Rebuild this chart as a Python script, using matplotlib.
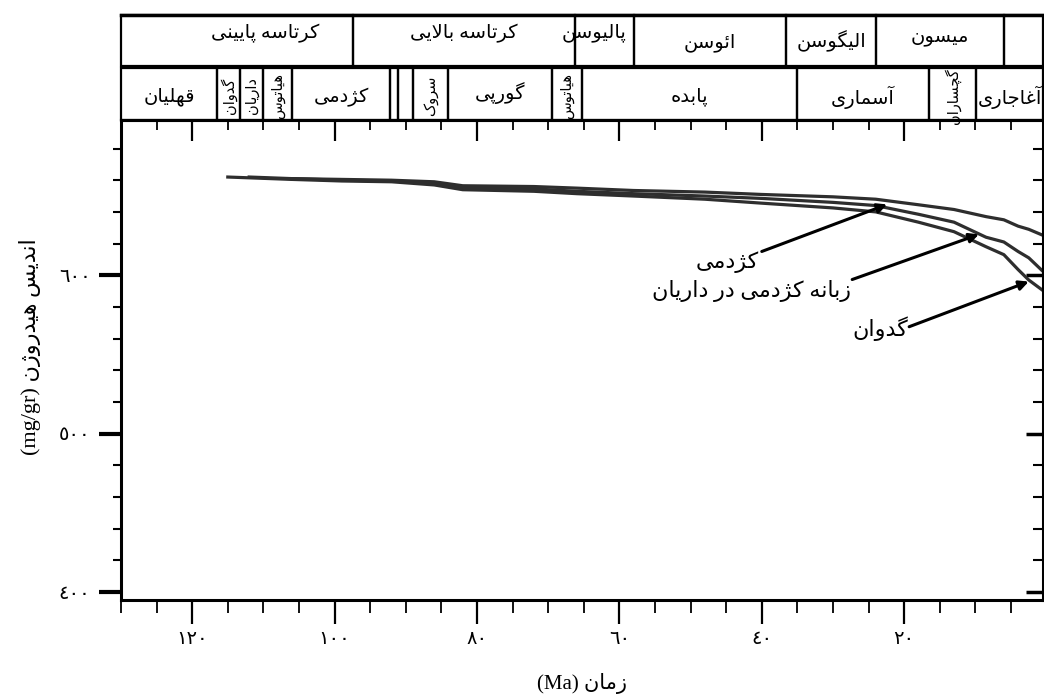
import matplotlib
matplotlib.use('Agg')
import matplotlib.pyplot as plt
from matplotlib.ticker import MultipleLocator, FuncFormatter
from matplotlib.patches import Rectangle

# ---------------- data ----------------
epoch_names = ["کرتاسه پایینی", "کرتاسه بالایی", "پالیوسن", "ائوسن", "الیگوسن", "میسون", ""]
epoch_bounds = [130, 97.4, 66.3, 57.9, 36.6, 23.9, 6.0, 0.5]

formation_names = ["قهلیان", "گدوان", "داریان", "هیاتوس", "کژدمی", "", "", "سروک",
                   "گورپی", "هیاتوس", "پابده", "آسماری", "گچساران", "آغاجاری"]
formation_bounds = [130, 116.5, 113.3, 110.0, 106.0, 92.2, 91.1, 89.0, 84.1,
                    69.4, 65.2, 35.1, 16.5, 9.9, 0.5]

gadvan_age = [115, 112, 106, 99, 92, 86, 82, 72, 66, 58, 48, 40, 30, 24, 18, 13, 8.5, 6, 4, 2.5, 0.4]
gadvan_hi = [662, 661.5, 660.5, 659.5, 659, 657, 654, 653, 651.5, 650, 648, 645.5, 642.5, 640,
             633.5, 627.5, 618, 613, 603.6, 597, 590]

dariyan_age = [112, 106, 99, 92, 86, 82, 72, 66, 58, 48, 40, 30, 24, 18, 13, 8.5, 6, 4, 2.5, 0.4]
dariyan_hi = [662, 661, 660, 659.5, 658, 655.5, 654.5, 653, 651.5, 650, 648.5, 646, 644,
              638.5, 633.5, 624, 621, 615, 611, 602]

kazhdumi_age = [106, 99, 92, 86, 82, 72, 66, 58, 48, 40, 30, 24, 18, 13, 8.5, 6, 4, 2.5, 0.4]
kazhdumi_hi = [661, 660.5, 660, 659, 656.5, 656, 655, 653.5, 652.5, 651, 649.5, 648, 644.5,
               641.5, 637, 635, 631, 629, 625]

curve_labels = ["کژدمی", "زبانه کژدمی در داریان", "گدوان"]

# ---------------- Persian shaping helpers ----------------
_F = {
    'ا': ('\uFE8D', '\uFE8E', None, None), 'آ': ('\uFE81', '\uFE82', None, None),
    'ب': ('\uFE8F', '\uFE90', '\uFE91', '\uFE92'), 'پ': ('\uFB56', '\uFB57', '\uFB58', '\uFB59'),
    'ت': ('\uFE95', '\uFE96', '\uFE97', '\uFE98'), 'ث': ('\uFE99', '\uFE9A', '\uFE9B', '\uFE9C'),
    'ج': ('\uFE9D', '\uFE9E', '\uFE9F', '\uFEA0'), 'چ': ('\uFB7A', '\uFB7B', '\uFB7C', '\uFB7D'),
    'ح': ('\uFEA1', '\uFEA2', '\uFEA3', '\uFEA4'), 'خ': ('\uFEA5', '\uFEA6', '\uFEA7', '\uFEA8'),
    'د': ('\uFEA9', '\uFEAA', None, None), 'ذ': ('\uFEAB', '\uFEAC', None, None),
    'ر': ('\uFEAD', '\uFEAE', None, None), 'ز': ('\uFEAF', '\uFEB0', None, None),
    'ژ': ('\uFB8A', '\uFB8B', None, None),
    'س': ('\uFEB1', '\uFEB2', '\uFEB3', '\uFEB4'), 'ش': ('\uFEB5', '\uFEB6', '\uFEB7', '\uFEB8'),
    'ص': ('\uFEB9', '\uFEBA', '\uFEBB', '\uFEBC'), 'ض': ('\uFEBD', '\uFEBE', '\uFEBF', '\uFEC0'),
    'ط': ('\uFEC1', '\uFEC2', '\uFEC3', '\uFEC4'), 'ظ': ('\uFEC5', '\uFEC6', '\uFEC7', '\uFEC8'),
    'ع': ('\uFEC9', '\uFECA', '\uFECB', '\uFECC'), 'غ': ('\uFECD', '\uFECE', '\uFECF', '\uFED0'),
    'ف': ('\uFED1', '\uFED2', '\uFED3', '\uFED4'), 'ق': ('\uFED5', '\uFED6', '\uFED7', '\uFED8'),
    'ک': ('\uFB8E', '\uFB8F', '\uFB90', '\uFB91'), 'گ': ('\uFB92', '\uFB93', '\uFB94', '\uFB95'),
    'ل': ('\uFEDD', '\uFEDE', '\uFEDF', '\uFEE0'), 'م': ('\uFEE1', '\uFEE2', '\uFEE3', '\uFEE4'),
    'ن': ('\uFEE5', '\uFEE6', '\uFEE7', '\uFEE8'), 'ه': ('\uFEE9', '\uFEEA', '\uFEEB', '\uFEEC'),
    'و': ('\uFEED', '\uFEEE', None, None), 'ی': ('\uFBFC', '\uFBFD', '\uFBFE', '\uFBFF'),
    'ئ': ('\uFE89', '\uFE8A', '\uFE8B', '\uFE8C'),
}
_LAMALEF = {'ا': ('\uFEFB', '\uFEFC'), 'آ': ('\uFEF5', '\uFEF6')}


def _dual(c):
    return c in _F and _F[c][2] is not None


def fa(s):
    """Shape Persian text into presentation forms and put it in visual order."""
    out = []
    i = 0
    n = len(s)
    while i < n:
        c = s[i]
        if c not in _F:
            out.append(c)
            i += 1
            continue
        prev_j = i > 0 and _dual(s[i - 1])
        if c == 'ل' and i + 1 < n and s[i + 1] in _LAMALEF:
            out.append(_LAMALEF[s[i + 1]][1 if prev_j else 0])
            i += 2
            continue
        next_j = _dual(c) and i + 1 < n and s[i + 1] in _F
        iso, fin, ini, med = _F[c]
        if prev_j and next_j:
            out.append(med)
        elif prev_j:
            out.append(fin)
        elif next_j:
            out.append(ini)
        else:
            out.append(iso)
        i += 1
    return ''.join(out)[::-1]


_DIG = str.maketrans('0123456789', '٠١٢٣٤٥٦٧٨٩')


def ar_num(v, pos=None):
    return str(int(round(v))).translate(_DIG)


FONT = ['Liberation Serif', 'DejaVu Sans']
plt.rcParams['font.family'] = FONT

# ---------------- figure ----------------
fig = plt.figure(figsize=(10.44, 6.95), dpi=100)
L, W = 121 / 1044, 922 / 1044
B, H = 95 / 695, 480 / 695
XLIM = (130, 0.5)

ax = fig.add_axes([L, B, W, H])
ax.set_xlim(*XLIM)
ax.set_ylim(395, 698)

line_kw = dict(color='#2e2e2e', lw=2.3, solid_joinstyle='round')
ax.plot(gadvan_age, gadvan_hi, **line_kw)
ax.plot(dariyan_age, dariyan_hi, **line_kw)
ax.plot(kazhdumi_age, kazhdumi_hi, **line_kw)

for sp in ax.spines.values():
    sp.set_linewidth(2.2)

ax.xaxis.set_major_locator(MultipleLocator(20))
ax.xaxis.set_minor_locator(MultipleLocator(5))
ax.yaxis.set_major_locator(MultipleLocator(100))
ax.yaxis.set_minor_locator(MultipleLocator(20))
ax.xaxis.set_major_formatter(FuncFormatter(ar_num))
ax.yaxis.set_major_formatter(FuncFormatter(ar_num))
ax.tick_params(axis='x', which='major', direction='out', length=17, width=1.6, pad=5, labelsize=14)
ax.tick_params(axis='x', which='minor', direction='out', length=9, width=1.3)
ax.tick_params(axis='y', which='major', direction='out', length=16, width=3, pad=6, labelsize=14)
ax.tick_params(axis='y', which='minor', direction='out', length=6, width=1.5)

secx = ax.secondary_xaxis('top')
secx.xaxis.set_major_locator(MultipleLocator(20))
secx.xaxis.set_minor_locator(MultipleLocator(5))
secx.tick_params(axis='x', which='major', direction='in', length=15, width=1.6, labeltop=False)
secx.tick_params(axis='x', which='minor', direction='in', length=7, width=1.3)
secx.spines['top'].set_linewidth(2.2)

secy = ax.secondary_yaxis('right')
secy.yaxis.set_major_locator(MultipleLocator(100))
secy.yaxis.set_minor_locator(MultipleLocator(20))
secy.tick_params(axis='y', which='major', direction='in', length=12, width=2.5, labelright=False)
secy.tick_params(axis='y', which='minor', direction='in', length=7, width=1.5)

fig.text(0.5575, 1 - 683 / 695, '(Ma) ' + fa('زمان'), ha='center', va='center', fontsize=15)
fig.text(30 / 1044, 1 - 347 / 695, '(mg/gr) ' + fa('اندیس هیدروژن'), ha='center', va='center',
         rotation=90, fontsize=16)

# annotations with arrows
ann_kw = dict(arrowprops=dict(arrowstyle='-|>', lw=2.2, color='black', mutation_scale=14,
                              shrinkA=0, shrinkB=0))
ax.annotate('', xy=(22.4, 644.7), xytext=(40.0, 615.0), **ann_kw)
ax.annotate('', xy=(9.5, 625.8), xytext=(27.3, 597.3), **ann_kw)
ax.annotate('', xy=(2.5, 596.0), xytext=(19.3, 567.5), **ann_kw)
ax.text(40.4, 608.5, fa(curve_labels[0]), ha='right', va='center', fontsize=16)
ax.text(27.5, 590.0, fa(curve_labels[1]), ha='right', va='center', fontsize=16)
ax.text(19.5, 566.5, fa(curve_labels[2]), ha='right', va='center', fontsize=16)

# ---------------- stratigraphic columns ----------------
axs = fig.add_axes([L, 1 - 120 / 695, W, 105 / 695])
axs.set_xlim(*XLIM)
axs.set_ylim(0, 105)
axs.axis('off')

# label placement tweaks (layout only): x shift in Ma, y in row units
epoch_label_pos = {0: (-4.0, 87), 2: (1.5, 87), 3: (0, 77), 4: (0, 79), 5: (0, 83)}
formation_label_pos = {8: (0, 27)}


def draw_row(names, bounds, y0, y1, ytext, fs, tweaks):
    for i, nm in enumerate(names):
        a, b = bounds[i], bounds[i + 1]
        axs.add_patch(Rectangle((b, y0), a - b, y1 - y0, fill=False, lw=1.6, ec='black',
                                clip_on=False))
        if not nm:
            continue
        dx, yt = tweaks.get(i, (0, ytext))
        xc = (a + b) / 2 + dx
        if a - b < 7:
            axs.text(xc, (y0 + y1) / 2 - 2, fa(nm), rotation=90, ha='center', va='center',
                     fontsize=10.5, clip_on=False)
        else:
            axs.text(xc, yt, fa(nm), ha='center', va='center', fontsize=fs, clip_on=False)


draw_row(epoch_names, epoch_bounds, 54, 105, 87, 14, epoch_label_pos)
draw_row(formation_names, formation_bounds, 0, 52, 23, 14, formation_label_pos)
axs.plot([XLIM[0], XLIM[1]], [105, 105], color='black', lw=2.5, clip_on=False)

fig.savefig('out.png', dpi=100)
